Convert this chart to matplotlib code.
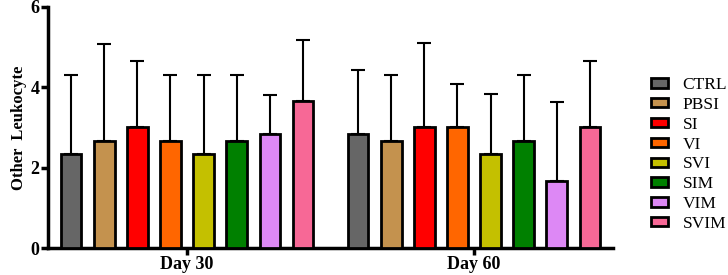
import numpy as np
import matplotlib; matplotlib.use("Agg"); import matplotlib.pyplot as plt
from matplotlib.patches import Patch

groups = ["CTRL", "PBSI", "SI", "VI", "SVI", "SIM", "VIM", "SVIM"]
colors = ["#666666", "#C4924E", "#FF0000", "#FF6600", "#C4C000", "#008000", "#DD88F5", "#F76896"]
days = ["Day 30", "Day 60"]
mean_d30 = [2.33, 2.67, 3.00, 2.67, 2.33, 2.67, 2.83, 3.67]
err_d30 = [1.97, 2.41, 1.66, 1.63, 1.97, 1.63, 0.97, 1.50]
mean_d60 = [2.83, 2.67, 3.00, 3.00, 2.33, 2.67, 1.67, 3.00]
err_d60 = [1.61, 1.63, 2.09, 1.09, 1.50, 1.63, 1.96, 1.66]

plt.rcParams["font.family"] = ["Liberation Serif", "DejaVu Serif"]
fig = plt.figure(figsize=(7.28, 2.75), dpi=100)
ax = fig.add_axes([0.066, 0.098, 0.776, 0.877])

gap = 8.67
for gi, (m, e) in enumerate([(mean_d30, err_d30), (mean_d60, err_d60)]):
    x = np.arange(len(groups)) + gi * gap
    ax.bar(x, m, width=0.62, color=colors, edgecolor="black", linewidth=2, zorder=3)
    ax.errorbar(x, m, yerr=[np.zeros(len(e)), e], fmt="none", ecolor="black",
                elinewidth=1.5, capsize=5, capthick=1.5, zorder=2)

ax.set_xlim(-0.7, 7 + gap + 0.7)
ax.set_ylim(0, 6)
ax.set_yticks([0, 2, 4, 6])
ax.set_xticks([3.5, 3.5 + gap])
ax.set_xticklabels(days, fontweight="bold", fontsize=13)
for lab in ax.get_yticklabels():
    lab.set_fontweight("bold"); lab.set_fontsize(13)
ax.set_ylabel("Other  Leukocyte", fontweight="bold", fontsize=12, labelpad=3)
for s in ["top", "right"]:
    ax.spines[s].set_visible(False)
for s in ["left", "bottom"]:
    ax.spines[s].set_linewidth(2.5)
ax.tick_params(width=2.5, length=5, pad=1)

handles = [Patch(facecolor=c, edgecolor="black", linewidth=2) for c in colors]
fig.legend(handles, groups, loc="center left", bbox_to_anchor=(0.877, 0.438), frameon=False,
           fontsize=12.5, handlelength=1.0, handleheight=0.45, labelspacing=0.22,
           handletextpad=0.85, borderpad=0.2)

fig.savefig("out.png", dpi=100)
